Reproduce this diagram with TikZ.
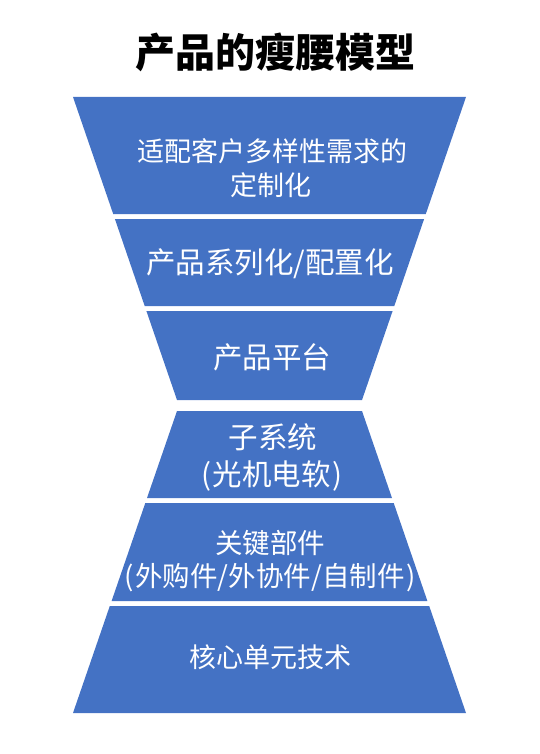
\documentclass[tikz,border=0pt]{standalone}
\usepackage{fontspec}
\setmainfont{Noto Sans CJK SC}
\definecolor{bandblue}{HTML}{4472C4}
\tikzset{
  band/.style={fill=bandblue, draw=none},
  bandtext/.style={text=white, font=\fontsize{27}{30}\selectfont, inner sep=0pt, anchor=center},
  bigtext/.style={bandtext, font=\fontsize{29.5}{33}\selectfont},
  titletext/.style={text=black, font=\fontsize{40}{46}\selectfont\bfseries, inner sep=0pt}
}
\newcommand{\ps}{\hspace{2pt}}
\begin{document}
\begin{tikzpicture}[x=1pt,y=-1pt]
\useasboundingbox (0,0) rectangle (539,754);
\node[titletext] (title) at (275,52) {产品的瘦腰模型};
% top funnel bands
\path[band] (73,97) -- (466,97) -- (425.8,214) -- (113.2,214) -- cycle;
\path[band] (114.9,219) -- (424.1,219) -- (394.3,306) -- (144.7,306) -- cycle;
\path[band] (146.4,311) -- (392.6,311) -- (362,400) -- (177,400) -- cycle;
% bottom pyramid bands
\path[band] (177,411) -- (362,411) -- (392,498) -- (147,498) -- cycle;
\path[band] (145.3,503) -- (393.7,503) -- (427.4,601) -- (111.6,601) -- cycle;
\path[band] (109.8,606) -- (429.2,606) -- (466,713) -- (73,713) -- cycle;
% texts
\node[bandtext] (t1a) at (272,151.5) {适配客户多样性需求的};
\node[bandtext] (t1b) at (271,185) {定制化};
\node[bigtext] (t2) at (270,263.5) {产品系列化/配置化};
\node[bigtext] (t3) at (272,357.5) {产品平台};
\node[bigtext] (t4a) at (273,437) {子系统};
\node[bigtext] (t4b) at (272,476) {(\ps 光机电软\ps)};
\node[bandtext, font=\fontsize{27.5}{30}\selectfont] (t5a) at (270,543) {关键部件};
\node[bandtext, font=\fontsize{27.5}{30}\selectfont] (t5b) at (270,578) {(\ps 外购件/外协件/自制件\ps)};
\node[bandtext] (t6) at (270,657) {核心单元技术};
\end{tikzpicture}
\end{document}
